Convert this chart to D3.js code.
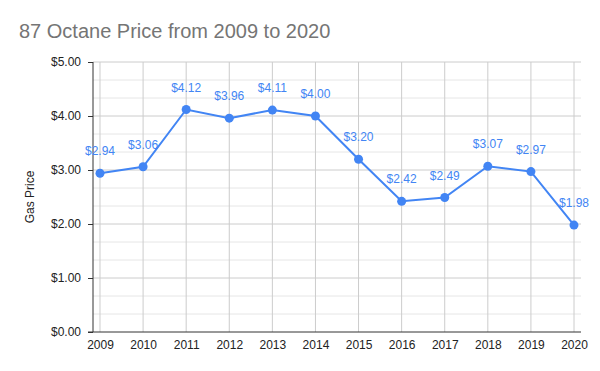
<!DOCTYPE html>
<html>
<head>
<meta charset="utf-8">
<script src="https://cdn.jsdelivr.net/npm/d3@7"></script>
<style>
  body { margin: 0; background: #fff; }
  text { font-family: "Liberation Sans", Arial, sans-serif; }
</style>
</head>
<body>
<div id="chart"></div>
<script>
var years = [2009, 2010, 2011, 2012, 2013, 2014, 2015, 2016, 2017, 2018, 2019, 2020];
var prices = [2.94, 3.06, 4.12, 3.96, 4.11, 4.00, 3.20, 2.42, 2.49, 3.07, 2.97, 1.98];
var yTicks = [0, 1, 2, 3, 4, 5];

var svgWidth = 600;
var svgHeight = 371;
var margin = { top: 62, right: 19, bottom: 39, left: 93 };
var width = svgWidth - margin.left - margin.right;
var height = svgHeight - margin.top - margin.bottom;
var blue = "#4285f4";

var svg = d3.select("#chart")
  .append("svg")
  .attr("width", svgWidth)
  .attr("height", svgHeight);

var chartGroup = svg.append("g")
  .attr("transform", `translate(${margin.left}, ${margin.top})`);

// x: linear scale with a small pad so 2009 sits off the axis
var xScale = d3.scaleLinear()
  .domain([2009 - 7 / 43.1, 2020 + 7 / 43.1])
  .range([0, width]);

var yScale = d3.scaleLinear()
  .domain([0, 5])
  .range([height, 0]);

// minor gridlines every 1/3 dollar
var minor = d3.range(0, 15).map(d => d / 3).filter(d => d % 1 !== 0);
chartGroup.append("g")
  .selectAll("line")
  .data(minor)
  .enter()
  .append("line")
  .attr("x1", 0).attr("x2", width)
  .attr("y1", d => yScale(d)).attr("y2", d => yScale(d))
  .attr("stroke", "#e6e6e6");

// major gridlines
chartGroup.append("g")
  .selectAll("line")
  .data(yTicks.slice(1))
  .enter()
  .append("line")
  .attr("x1", 0).attr("x2", width)
  .attr("y1", d => yScale(d)).attr("y2", d => yScale(d))
  .attr("stroke", "#cccccc");

// vertical gridlines
chartGroup.append("g")
  .selectAll("line")
  .data(years)
  .enter()
  .append("line")
  .attr("x1", d => xScale(d)).attr("x2", d => xScale(d))
  .attr("y1", 0).attr("y2", height)
  .attr("stroke", "#cccccc");

// axes
var leftAxis = d3.axisLeft(yScale)
  .tickValues(yTicks)
  .tickSize(5)
  .tickPadding(7)
  .tickFormat(d => "$" + d3.format(".2f")(d));

var yAxisG = chartGroup.append("g").call(leftAxis);
yAxisG.select(".domain").remove();
yAxisG.selectAll("line").attr("stroke", "#333");
yAxisG.selectAll("text")
  .attr("font-size", "12px")
  .attr("font-family", "Liberation Sans, Arial, sans-serif")
  .attr("fill", "#222");

var bottomAxis = d3.axisBottom(xScale)
  .tickValues(years)
  .tickSize(0)
  .tickPadding(8)
  .tickFormat(d3.format("d"));

var xAxisG = chartGroup.append("g")
  .attr("transform", `translate(0, ${height})`)
  .call(bottomAxis);
xAxisG.select(".domain").remove();
xAxisG.selectAll("text")
  .attr("font-size", "12px")
  .attr("font-family", "Liberation Sans, Arial, sans-serif")
  .attr("fill", "#222");

// axis lines
chartGroup.append("line")
  .attr("x1", -5).attr("x2", width)
  .attr("y1", height).attr("y2", height)
  .attr("stroke", "#333");
chartGroup.append("line")
  .attr("x1", 0).attr("x2", 0)
  .attr("y1", 0).attr("y2", height)
  .attr("stroke", "#333");

// line + points
var line = d3.line()
  .x((d, i) => xScale(years[i]))
  .y(d => yScale(d));

chartGroup.append("path")
  .datum(prices)
  .attr("d", line)
  .attr("fill", "none")
  .attr("stroke", blue)
  .attr("stroke-width", 2);

chartGroup.append("g")
  .selectAll("circle")
  .data(prices)
  .enter()
  .append("circle")
  .attr("cx", (d, i) => xScale(years[i]))
  .attr("cy", d => yScale(d))
  .attr("r", 4.5)
  .attr("fill", blue);

chartGroup.append("g")
  .selectAll("text")
  .data(prices)
  .enter()
  .append("text")
  .attr("x", (d, i) => xScale(years[i]))
  .attr("y", d => yScale(d) - 18)
  .attr("text-anchor", "middle")
  .attr("font-size", "12px")
  .attr("fill", blue)
  .text(d => "$" + d3.format(".2f")(d));

// title and axis label
svg.append("text")
  .attr("x", 19)
  .attr("y", 38)
  .attr("font-size", "20px")
  .attr("fill", "#757575")
  .text("87 Octane Price from 2009 to 2020");

svg.append("text")
  .attr("transform", `translate(34, ${margin.top + height / 2}) rotate(-90)`)
  .attr("text-anchor", "middle")
  .attr("font-size", "12px")
  .attr("fill", "#222")
  .text("Gas Price");
</script>
</body>
</html>
